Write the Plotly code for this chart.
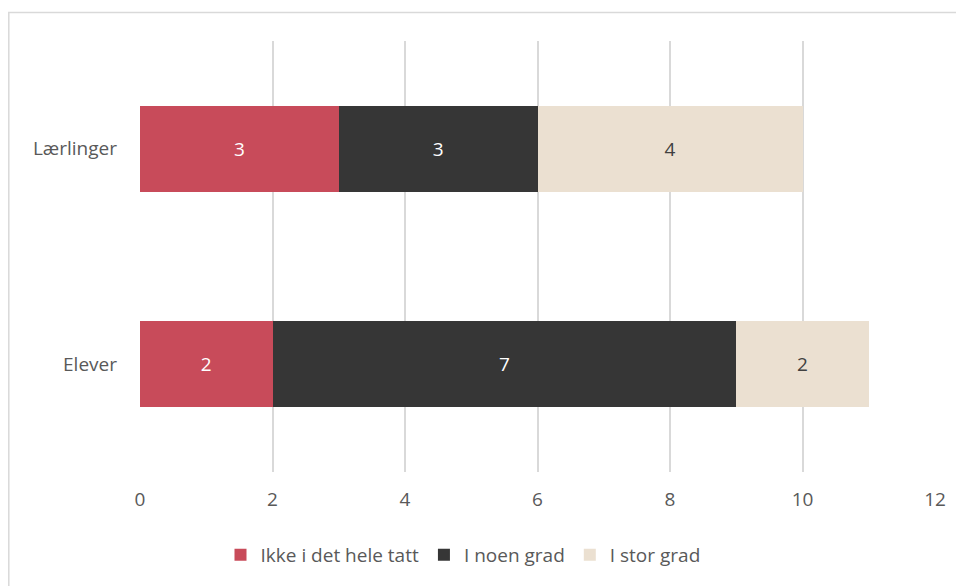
import plotly.graph_objects as go

categories = ["Elever", "Lærlinger"]
series_names = ["Ikke i det hele tatt", "I noen grad", "I stor grad"]
ikke = [2, 3]
noen = [7, 3]
stor = [2, 4]
x_ticks = [0, 2, 4, 6, 8, 10, 12]

colors = ["#C84B5A", "#363636", "#EBE0D1"]
text_colors = ["white", "white", "#404040"]
values = [ikke, noen, stor]

OFF = 8  # page body margin
W, H = 964 - OFF, 586 - OFF
L, T = 140 - OFF, 41 - OFF
R = W - (935 - OFF)
B = H - (472 - OFF)
pw, ph = W - L - R, H - T - B

FONT = "Open Sans"

fig = go.Figure()
for name, vals, c, tc in zip(series_names, values, colors, text_colors):
    fig.add_trace(go.Bar(
        y=categories, x=vals, name=name, orientation="h",
        marker=dict(color=c, line=dict(width=0)),
        text=[str(v) for v in vals], textposition="inside",
        insidetextanchor="middle",
        textfont=dict(color=tc, size=19, family=FONT),
    ))

bx0 = (8.8 - 140) / pw
bx1 = (990 - 140) / pw
by0 = (472 - 620) / ph
by1 = 1 + (41 - 12.5) / ph

fig.update_layout(
    barmode="stack",
    bargap=0.6,
    width=W, height=H,
    margin=dict(l=L, r=R, t=T, b=B),
    paper_bgcolor="white", plot_bgcolor="white",
    font=dict(family=FONT, size=19, color="#595959"),
    xaxis=dict(range=[0, 12], tickvals=x_ticks, showgrid=True,
               gridcolor="#D9D9D9", gridwidth=2, zeroline=False,
               showline=False, ticks="", ticklabelstandoff=14,
               tickfont=dict(size=19, color="#595959")),
    yaxis=dict(showgrid=False, zeroline=False, showline=False, ticks="",
               ticklabelstandoff=22,
               tickfont=dict(size=19, color="#595959")),
    legend=dict(orientation="h", x=(463 - 140) / pw, xanchor="center",
                y=(472 - 555) / ph, yanchor="middle",
                font=dict(size=19, color="#595959"), traceorder="normal",
                itemwidth=30),
    uniformtext=dict(mode=False),
    shapes=[dict(type="path", xref="paper", yref="paper",
                 path=f"M {bx0},{by0} L {bx0},{by1} L {bx1},{by1}",
                 line=dict(color="#D9D9D9", width=1.5), layer="below")],
)

fig.write_html("out.html")
